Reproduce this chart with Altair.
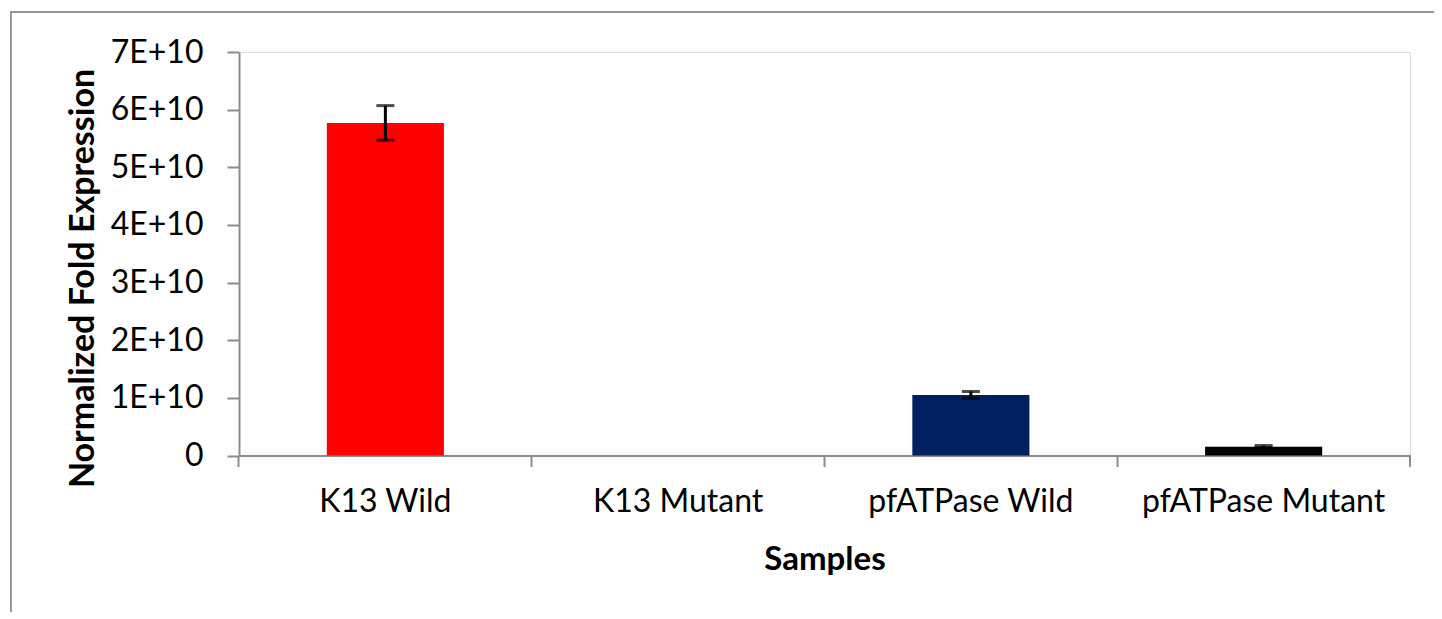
import altair as alt
import pandas as pd

samples = ["K13 Wild", "K13 Mutant", "pfATPase Wild", "pfATPase Mutant"]
values = [5.77e10, 0.0, 1.05e10, 0.153e10]
errors = [0.30e10, 0.0, 0.06e10, 0.02e10]
colors = ["#FF0000", "#000000", "#002060", "#000000"]

df = pd.DataFrame({
    "sample": samples,
    "value": values,
    "err": errors,
    "lo": [v - e for v, e in zip(values, errors)],
    "hi": [v + e for v, e in zip(values, errors)],
})

W, H = 1171, 403.5
FONT = "Lato"
GRAY = "#8c8c8c"
FS = 32

x = alt.X(
    "sample:N",
    sort=samples,
    scale=alt.Scale(paddingInner=0.6, paddingOuter=0.3),
    axis=alt.Axis(
        title="Samples",
        bandPosition=-0.75,
        labelAngle=0,
        labelFont=FONT,
        labelFontSize=FS,
        labelColor="#000000",
        labelPadding=20,
        labelLimit=0,
        tickSize=11,
        tickColor=GRAY,
        tickWidth=2,
        domainColor=GRAY,
        domainWidth=2,
        grid=False,
        titleFont=FONT,
        titleFontSize=33,
        titleFontWeight="bold",
        titleColor="#000000",
        titleBaseline="alphabetic",
        titleY=114,
    ),
)

yscale = alt.Scale(domain=[0, 7e10], nice=False)

bars = alt.Chart(df).mark_bar().encode(
    x=x,
    y=alt.Y(
        "value:Q",
        scale=yscale,
        axis=alt.Axis(
            title="Normalized Fold Expression",
            values=[i * 1e10 for i in range(8)],
            labelExpr="datum.value == 0 ? '0' : format(datum.value / 1e10, 'd') + 'E+10'",
            labelFont=FONT,
            labelFontSize=FS,
            labelColor="#000000",
            labelPadding=24,
            tickSize=12,
            tickColor=GRAY,
            tickWidth=2,
            domainColor=GRAY,
            domainWidth=2,
            grid=False,
            titleFont=FONT,
            titleFontSize=34,
            titleFontWeight="bold",
            titleColor="#000000",
            titleBaseline="alphabetic",
            titleX=-146,
            titleY=226,
        ),
    ),
    color=alt.Color("sample:N", scale=alt.Scale(domain=samples, range=colors), legend=None),
)

err_base = alt.Chart(df).transform_filter("datum.err > 0")

err = err_base.mark_rule(color="#000000", strokeWidth=3).encode(
    x=alt.X("sample:N", sort=samples),
    y=alt.Y("lo:Q", scale=yscale),
    y2="hi:Q",
)
cap_hi = err_base.mark_tick(color="#000000", size=18, thickness=3).encode(
    x=alt.X("sample:N", sort=samples),
    y=alt.Y("hi:Q", scale=yscale),
)
cap_lo = err_base.mark_tick(color="#000000", size=18, thickness=3).encode(
    x=alt.X("sample:N", sort=samples),
    y=alt.Y("lo:Q", scale=yscale),
)

end_tick = alt.Chart(df).mark_rule(color=GRAY, strokeWidth=2).encode(
    x=alt.value(W), y=alt.value(H), y2=alt.value(H + 11)
)

frame = alt.Chart(df).mark_rect(filled=False, stroke="#999999", strokeWidth=2).encode(
    x=alt.value(-228), x2=alt.value(W + 60), y=alt.value(-40), y2=alt.value(H + 200)
)

chart = alt.layer(frame, bars, err, cap_hi, cap_lo, end_tick).properties(
    width=W,
    height=H,
    autosize=alt.AutoSizeParams(type="none"),
    padding={"left": 231, "top": 44, "right": 24, "bottom": 156},
).configure_view(stroke=None).configure(background="#ffffff")

chart.save("out.html", embed_options={"renderer": "svg", "actions": False})
